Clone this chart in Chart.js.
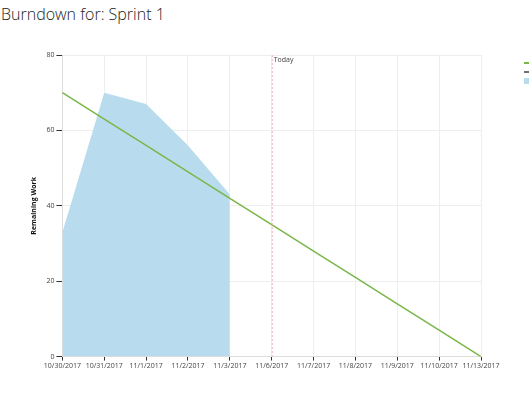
<!DOCTYPE html>
<html>
<head>
<meta charset="utf-8">
<script src="https://cdn.jsdelivr.net/npm/chart.js@4"></script>
<style>
  html, body { margin: 0; padding: 0; background: #fff; overflow: hidden; }
  #title {
    position: absolute; left: 1px; top: 3px;
    font-family: "Open Sans", "Noto Sans", sans-serif; font-weight: 300;
    font-size: 16px; color: #222;
  }
  #wrap { position: absolute; left: 0; top: 0; width: 529px; height: 393px; }
</style>
</head>
<body>
<div id="title">Burndown for: Sprint 1</div>
<div id="wrap"><canvas id="burndown"></canvas></div>
<script>
// sprint days (working days only)
const days = ["10/30/2017", "10/31/2017", "11/1/2017", "11/2/2017", "11/3/2017",
              "11/6/2017", "11/7/2017", "11/8/2017", "11/9/2017", "11/10/2017", "11/13/2017"];
const remainingWork = [33, 70, 67, 56, 43, null, null, null, null, null, null];
const idealTrend = [70, 63, 56, 49, 42, 35, 28, 21, 14, 7, 0];
const todayLabel = "11/6/2017";
const yTicks = [0, 20, 40, 60, 80];

const todayLine = {
    id: "todayLine",
    afterDatasetsDraw(chart) {
        const x = chart.scales.x.getPixelForValue(days.indexOf(todayLabel));
        const area = chart.chartArea;
        const c = chart.ctx;
        c.save();
        c.strokeStyle = "#f4b3bc";
        c.lineWidth = 1;
        c.setLineDash([2, 2]);
        c.beginPath();
        c.moveTo(x + 0.5, area.top);
        c.lineTo(x + 0.5, area.bottom);
        c.stroke();
        c.setLineDash([]);
        c.fillStyle = "#444";
        c.font = "7px 'Open Sans', sans-serif";
        c.textBaseline = "middle";
        c.fillText("Today", x + 2, area.top + 5);
        c.restore();
    }
};

// legend swatches, text is cut off at the right edge
const sideLegend = {
    id: "sideLegend",
    afterDraw(chart) {
        const c = chart.ctx;
        c.save();
        c.fillStyle = "#7ab648";
        c.fillRect(524, 62, 6, 2);
        c.fillStyle = "#6f6f6f";
        c.fillRect(524, 71, 6, 2);
        c.fillStyle = "#b8dcee";
        c.fillRect(524, 78, 6, 6);
        c.restore();
    }
};

const ctx = document.getElementById("burndown").getContext("2d");
const chart = new Chart(ctx, {
    type: "line",
    data: {
        labels: days,
        datasets: [{
            label: "Ideal Trend",
            data: idealTrend,
            borderColor: "#7ab648",
            borderWidth: 1.5,
            pointRadius: 0,
            fill: false,
            tension: 0,
            order: 1
        }, {
            label: "Remaining",
            data: remainingWork,
            borderWidth: 0,
            borderColor: "rgba(0,0,0,0)",
            backgroundColor: "#b8dcee",
            pointRadius: 0,
            fill: "origin",
            tension: 0,
            spanGaps: false,
            order: 2
        }]
    },
    options: {
        responsive: true,
        maintainAspectRatio: false,
        animation: false,
        layout: { padding: { left: 24, top: 55, right: 48, bottom: 22 } },
        plugins: {
            legend: { display: false },
            tooltip: { enabled: false }
        },
        scales: {
            x: {
                offset: false,
                grid: { color: "#eeeeee", tickColor: "#333", tickLength: 4 },
                border: { color: "#dddddd" },
                ticks: {
                    color: "#444",
                    font: { family: "'Open Sans', sans-serif", size: 7 },
                    maxRotation: 0, autoSkip: false, padding: 1
                }
            },
            y: {
                min: 0, max: 80,
                afterBuildTicks(scale) { scale.ticks = yTicks.map(v => ({ value: v })); },
                grid: { color: "#eeeeee", tickColor: "#333", tickLength: 6 },
                border: { color: "#dddddd" },
                ticks: {
                    color: "#444",
                    font: { family: "'Open Sans', sans-serif", size: 7 },
                    padding: 2
                },
                title: {
                    display: true, text: "Remaining Work", color: "#111",
                    font: { family: "'Open Sans', sans-serif", size: 7, weight: "bold" },
                    padding: 6
                }
            }
        }
    },
    plugins: [todayLine, sideLegend]
});
</script>
</body>
</html>
